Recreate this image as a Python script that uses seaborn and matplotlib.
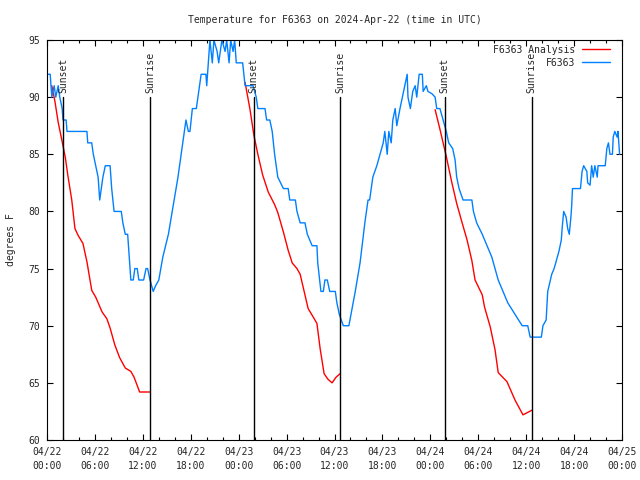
import matplotlib
matplotlib.use("Agg")
import matplotlib.pyplot as plt
import matplotlib.dates as mdates
import numpy as np
import pandas as pd
import seaborn as sns

# hours since 2024-04-22 00:00 UTC, temperatures in degrees F
obs_hours = [0.0, 0.4, 0.6, 0.9, 1.1, 1.4, 1.6, 1.9, 2.0, 2.4, 2.5, 5.0, 5.1, 5.6, 5.8, 6.1,
             6.4, 6.6, 6.8, 7.0, 7.3, 7.9, 8.1, 8.4, 9.3, 9.5, 9.8, 10.1, 10.4, 10.5, 10.8,
             11.0, 11.3, 11.5, 12.1, 12.4, 12.6, 12.9, 13.1, 13.3, 13.6, 14.0, 14.5, 15.2,
             15.8, 16.4, 17.0, 17.4, 17.7, 17.9, 18.2, 18.7, 18.9, 19.3, 19.9, 20.0, 20.2,
             20.4, 20.7, 20.9, 21.3, 21.5, 21.9, 22.3, 22.5, 22.8, 23.0, 23.3, 23.5, 23.7,
             24.5, 24.8, 25.4, 25.8, 26.2, 26.4, 27.3, 27.5, 27.9, 28.2, 28.5, 28.9, 29.6,
             30.2, 30.4, 31.1, 31.3, 31.7, 32.3, 32.6, 33.2, 33.8, 33.9, 34.3, 34.6, 34.8,
             35.1, 35.4, 36.1, 36.3, 36.6, 37.1, 37.8, 38.2, 38.6, 39.2, 39.8, 40.2, 40.4,
             40.8, 41.3, 41.7, 42.1, 42.3, 42.6, 42.8, 43.1, 43.3, 43.6, 43.8, 44.2, 44.5,
             44.8, 45.1, 45.2, 45.5, 45.8, 46.1, 46.3, 46.6, 47.0, 47.1, 47.5, 47.7, 48.2,
             48.6, 48.8, 49.2, 49.6, 50.0, 50.3, 50.8, 51.1, 51.3, 51.6, 52.1, 53.2, 53.4,
             53.8, 54.5, 55.1, 55.7, 56.1, 56.5, 57.1, 57.7, 58.6, 59.5, 60.2, 60.5, 61.9,
             62.1, 62.5, 62.7, 63.2, 63.5, 63.9, 64.1, 64.4, 64.5, 64.7, 65.0, 65.2, 65.4,
             65.6, 65.7, 65.8, 66.8, 67.0, 67.2, 67.6, 67.7, 68.0, 68.2, 68.4, 68.6, 68.9,
             69.0, 69.9, 70.1, 70.3, 70.5, 70.8, 70.9, 71.1, 71.4, 71.5, 71.7]
obs_temp = [92, 92, 90, 91, 90, 91, 90, 89, 88, 88, 87, 87, 86, 86, 85, 84,
            83, 81, 82, 83, 84, 84, 82, 80, 80, 79, 78, 78, 75, 74, 74,
            75, 75, 74, 74, 75, 75, 74, 73.5, 73, 73.5, 74, 76, 78,
            80.5, 83, 86, 88, 87, 87, 89, 89, 90, 92, 92, 91, 93,
            95, 93, 95, 94, 93, 95, 94, 95, 93, 95, 94, 95, 93,
            93, 91, 91, 91, 90, 89, 89, 88, 88, 87, 85, 83, 82,
            82, 81, 81, 80, 79, 79, 78, 77, 77, 75.5, 73, 73, 74,
            74, 73, 73, 72, 71, 70, 70, 71.5, 73, 75.5, 79, 81, 81,
            83, 84, 85, 86, 87, 85, 87, 86, 88, 89, 87.5, 89, 90,
            91, 92, 90, 89, 90.5, 91, 90, 92, 92, 90.5, 91, 90.5, 90.3,
            90, 89, 89, 88, 87, 86, 85.5, 84.5, 83, 82, 81, 81, 80,
            79, 78, 77, 76, 75, 74, 73, 72, 71, 70, 70, 69, 69,
            70, 70.5, 73, 74.5, 75, 76, 76.5, 77.5, 78.5, 80, 79.5, 78.5, 78,
            79.5, 80.5, 82, 82, 83.5, 84, 83.5, 82.5, 82.3, 84, 83, 84, 83,
            84, 84, 85.5, 86, 85, 85, 86.5, 87, 86.5, 87, 85]

ana1_hours = [0.6, 1.0, 1.4, 1.9, 2.3, 2.6, 3.1, 3.5, 3.9, 4.5, 5.0, 5.6, 6.1, 6.9, 7.5,
              7.9, 8.5, 9.1, 9.8, 10.5, 10.9, 11.6, 12.9]
ana1_temp = [91, 89.6, 87.8, 86.1, 84.7, 83.2, 81, 78.5, 77.9, 77.2, 75.6, 73.1, 72.5, 71.2,
             70.6, 69.8, 68.3, 67.2, 66.3, 66, 65.5, 64.2, 64.2]
ana2_hours = [24.8, 25.4, 25.9, 26.4, 27.0, 27.7, 28.5, 28.9, 29.6, 30.2, 30.7, 31.3, 31.7,
              32.1, 32.7, 33.3, 33.8, 34.2, 34.7, 35.2, 35.7, 36.2, 36.7]
ana2_temp = [91.3, 89, 86.7, 85, 83.2, 81.7, 80.6, 79.9, 78.2, 76.6, 75.5, 75, 74.5, 73.3,
             71.5, 70.8, 70.2, 68, 65.8, 65.3, 65, 65.5, 65.8]
ana3_hours = [48.6, 49.2, 50.0, 50.7, 51.3, 51.9, 52.6, 53.2, 53.6, 54.5, 54.8, 55.5, 56.1,
              56.5, 57.6, 58.6, 59.6, 60.7]
ana3_temp = [88.9, 87.2, 84.8, 82.5, 80.7, 79.2, 77.5, 75.7, 74, 72.7, 71.6, 69.9, 67.9,
             65.9, 65.1, 63.5, 62.2, 62.6]

sunset_hours = [2.0, 25.9, 49.8]
sunrise_hours = [12.9, 36.7, 60.7]

start = pd.Timestamp("2024-04-22 00:00")


def to_time(hours):
    return start + pd.to_timedelta(np.array(hours), unit="h")


sns.set_style("ticks")
plt.rcParams["font.family"] = ["DejaVu Sans Mono"]
plt.rcParams["font.size"] = 7

fig = plt.figure(figsize=(6.4, 4.8), dpi=100)
ax = fig.add_axes([47 / 640, 40 / 480, 575 / 640, 400 / 480])

red = "#ff0000"
blue = "#0080ff"

segments = [(ana1_hours, ana1_temp), (ana2_hours, ana2_temp), (ana3_hours, ana3_temp)]
for i, (hh, tt) in enumerate(segments):
    sns.lineplot(x=to_time(hh), y=tt, ax=ax, color=red, linewidth=1,
                 label="F6363 Analysis" if i == 0 else None, sort=False)

sns.lineplot(x=to_time(obs_hours), y=obs_temp, ax=ax, color=blue, linewidth=1,
             label="F6363", sort=False)

for name, hours in [("Sunset", sunset_hours), ("Sunrise", sunrise_hours)]:
    for t in to_time(hours):
        ax.plot([t, t], [60, 90], color="black", linewidth=1)
        ax.text(t, 90.4, name, rotation=90, ha="center", va="bottom", fontsize=7)

ax.set_xlim(start, start + pd.Timedelta(hours=72))
ax.set_ylim(60, 95)
ax.set_yticks(range(60, 96, 5))
ax.xaxis.set_major_locator(mdates.HourLocator(byhour=[0, 6, 12, 18]))
ax.xaxis.set_minor_locator(mdates.HourLocator(interval=2))
ax.xaxis.set_major_formatter(mdates.DateFormatter("%m/%d\n%H:%M"))
for lbl in ax.get_xticklabels():
    lbl.set_linespacing(1.5)

ax.tick_params(which="both", direction="in", top=True, right=True, width=0.8, color="black")
ax.tick_params(which="major", length=4.5, pad=5, labelsize=7)
ax.tick_params(which="minor", length=2.2)
for s in ax.spines.values():
    s.set_linewidth(0.8)
    s.set_color("black")

ax.set_xlabel("")
ax.set_ylabel("degrees F", fontsize=7, labelpad=9)
ax.set_title("Temperature for F6363 on 2024-Apr-22 (time in UTC)", fontsize=7, pad=12)

ax.legend(loc="upper right", bbox_to_anchor=(1 - 6 / 575, 1 + 1 / 400), frameon=False,
          markerfirst=False, fontsize=7, handlelength=2.9, labelspacing=0.3,
          borderaxespad=0.2, handletextpad=0.7)

fig.savefig("out.png", dpi=100)
